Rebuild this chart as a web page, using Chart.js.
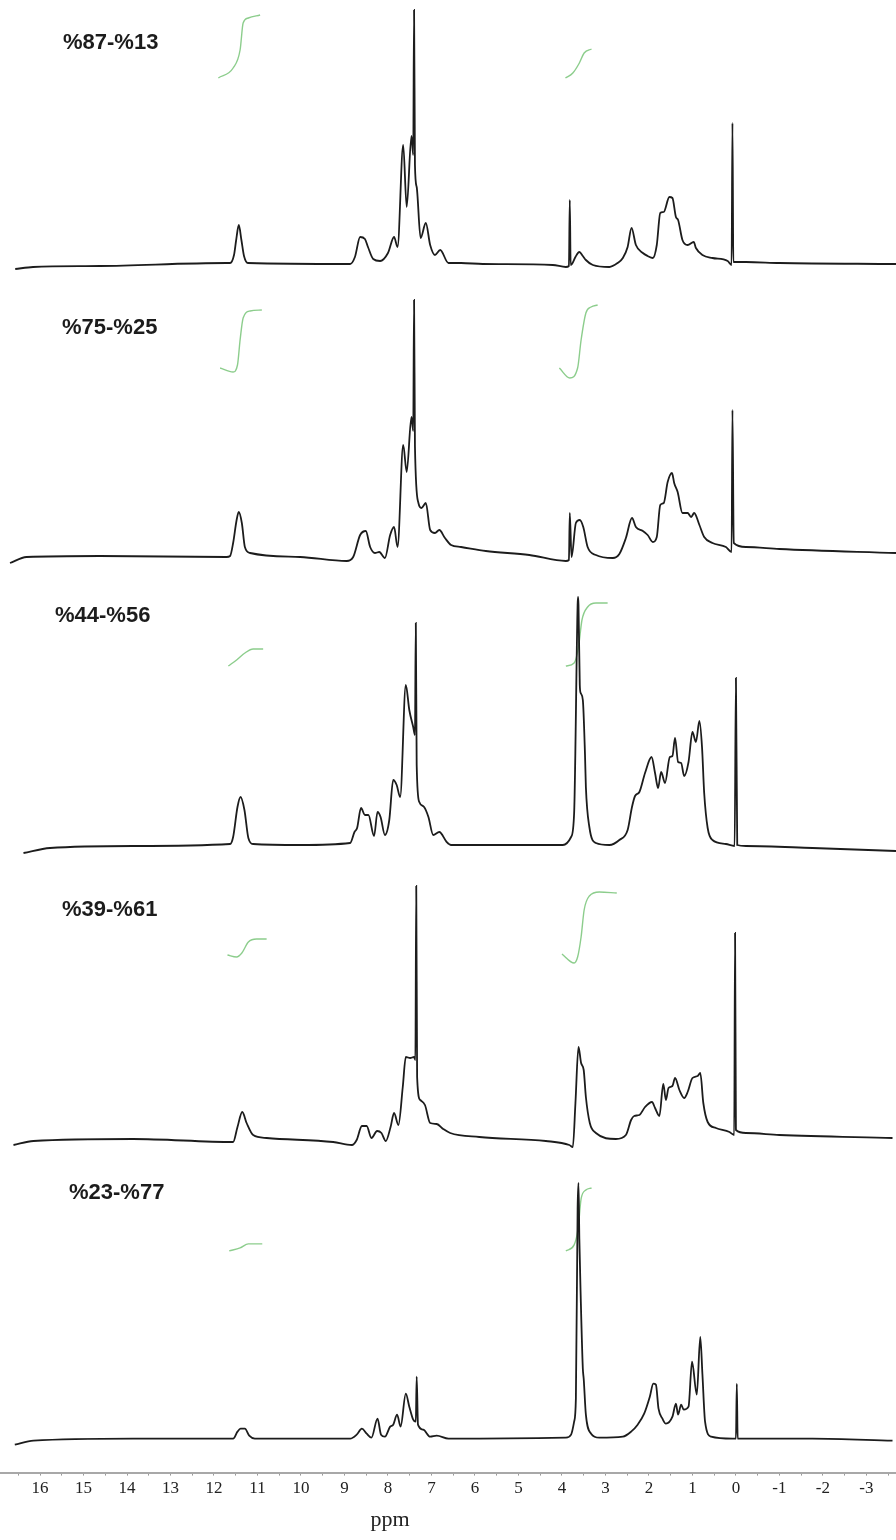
<!DOCTYPE html>
<html>
<head>
<meta charset="utf-8">
<script src="https://cdn.jsdelivr.net/npm/chart.js@4.4.1/dist/chart.umd.min.js"></script>
<style>
  body { margin: 0; background: #fff; }
  #wrap { position: relative; width: 896px; height: 1540px; overflow: hidden; background: #fff; }
  #wrap canvas { position: absolute; left: 0; }
  .lbl { position: absolute; font: bold 22px "Liberation Sans", Arial, sans-serif; color: #1c1c1c; line-height: 24px; white-space: nowrap; }
  #ppm { position: absolute; left: 350px; top: 1506px; width: 80px; text-align: center; line-height: 26px; font: 22px "Liberation Serif", "Times New Roman", serif; color: #222; }
</style>
</head>
<body>
<div id="wrap">
  <canvas id="p0"></canvas>
  <canvas id="p1"></canvas>
  <canvas id="p2"></canvas>
  <canvas id="p3"></canvas>
  <canvas id="p4"></canvas>
  <div id="ppm">ppm</div>
</div>
<script>

// sample names (ratio)
var LABELS = ["%87-%13", "%75-%25", "%44-%56", "%39-%61", "%23-%77"];

// x axis, ppm
var TICK_LABELS = [16, 15, 14, 13, 12, 11, 10, 9, 8, 7, 6, 5, 4, 3, 2, 1, 0, -1, -2, -3];

// spectra: [ppm, intensity]
var spec1 = [[16.57,-4],[16.16,-2],[14.62,-1],[11.71,2],[11.63,2],[11.54,10],[11.49,25],[11.43,40],[11.37,25],[11.31,9],[11.22,2],
  [8.87,1],[8.76,8],[8.64,28],[8.53,26],[8.46,18],[8.34,6],[8.18,4],[8.00,12],[7.86,28],[7.78,18],[7.65,120],[7.57,58],[7.46,129],
  [7.42,110],[7.40,255],[7.38,100],[7.34,78],[7.25,27],[7.13,42],[7.03,20],[6.92,10],[6.80,15],[6.61,2],[6.32,2],[5.82,1],[4.21,0],
  [3.91,-2],[3.84,-1],[3.82,65],[3.80,0],[3.77,1],[3.69,8],[3.60,13],[3.52,9],[3.45,5],[3.29,0],[2.91,-2],[2.72,2],[2.60,7],[2.49,18],
  [2.40,37],[2.30,20],[2.14,12],[2.03,9],[1.91,7],[1.82,20],[1.74,52],[1.66,53],[1.53,68],[1.46,67],[1.38,48],[1.33,45],[1.23,25],
  [1.11,20],[0.97,23],[0.92,17],[0.77,10],[0.54,7],[0.19,4],[0.10,0],[0.08,142],[0.06,3],[-0.23,3],[-1.00,2],[-3.68,1]];

var spec2 = [[16.69,-7],[16.31,-1],[14.62,0],[11.71,-1],[11.63,0],[11.56,13],[11.48,36],[11.43,44],[11.36,33],[11.29,9],[11.17,3],
  [10.02,-1],[8.95,-5],[8.80,-1],[8.64,21],[8.51,25],[8.41,9],[8.30,3],[8.20,4],[8.07,-2],[7.95,21],[7.86,29],[7.78,9],[7.65,111],
  [7.57,84],[7.46,139],[7.42,125],[7.40,256],[7.38,110],[7.30,53],[7.23,48],[7.13,53],[7.03,26],[6.92,23],[6.82,26],[6.69,18],
  [6.55,11],[6.32,9],[5.75,5],[4.75,1],[3.91,-5],[3.84,-4],[3.82,43],[3.78,-1],[3.68,33],[3.59,36],[3.51,29],[3.41,9],[3.22,1],
  [2.83,-2],[2.68,2],[2.53,18],[2.39,38],[2.30,29],[2.14,25],[2.03,21],[1.91,14],[1.82,19],[1.74,51],[1.66,53],[1.57,74],[1.47,83],
  [1.42,73],[1.34,64],[1.23,43],[1.11,43],[1.03,39],[0.96,43],[0.84,31],[0.73,19],[0.54,13],[0.23,9],[0.10,4],[0.08,146],[0.05,13],
  [-0.23,9],[-1.00,7],[-3.68,3]];

var spec3 = [[16.38,-8],[15.77,-3],[13.86,-1],[11.63,1],[11.56,8],[11.46,38],[11.39,48],[11.30,35],[11.21,7],[11.10,1],[10.02,0],
  [8.87,2],[8.77,13],[8.71,17],[8.62,37],[8.53,30],[8.45,30],[8.32,9],[8.24,33],[8.17,28],[8.07,10],[7.97,25],[7.88,65],[7.80,60],
  [7.72,48],[7.59,160],[7.51,135],[7.42,118],[7.38,110],[7.36,222],[7.34,80],[7.28,43],[7.17,38],[7.07,28],[6.96,10],[6.82,13],
  [6.65,3],[6.55,0],[5.90,0],[3.98,0],[3.79,8],[3.72,32],[3.64,240],[3.63,248],[3.62,240],[3.59,160],[3.57,152],[3.52,145],[3.47,90],
  [3.45,58],[3.37,18],[3.22,2],[2.91,0],[2.68,5],[2.49,15],[2.39,38],[2.32,49],[2.22,53],[2.09,72],[1.94,88],[1.86,72],[1.79,57],
  [1.72,73],[1.63,62],[1.52,88],[1.46,89],[1.40,107],[1.33,83],[1.26,82],[1.19,69],[1.09,83],[1.00,113],[0.92,103],[0.84,124],
  [0.78,98],[0.73,52],[0.65,17],[0.54,5],[0.23,1],[0.03,-1],[0.00,167],[-0.03,0],[-0.23,-1],[-1.76,-3],[-3.68,-6]];

var spec4 = [[16.61,-5],[16.15,-1],[13.86,1],[11.56,-2],[11.46,13],[11.35,28],[11.25,17],[11.10,5],[10.79,2],[9.26,-2],[8.83,-5],
  [8.72,0],[8.60,14],[8.49,14],[8.38,2],[8.25,9],[8.15,7],[8.05,-1],[7.94,13],[7.86,27],[7.76,15],[7.66,53],[7.59,83],[7.49,82],
  [7.40,83],[7.37,80],[7.35,254],[7.33,63],[7.26,40],[7.15,35],[7.03,17],[6.88,16],[6.73,11],[6.57,7],[5.90,3],[4.37,-1],[3.83,-5],
  [3.75,-7],[3.69,37],[3.62,93],[3.56,77],[3.50,70],[3.45,43],[3.36,17],[3.22,7],[2.76,1],[2.53,5],[2.41,20],[2.34,24],[2.22,25],
  [2.09,33],[1.93,38],[1.86,32],[1.76,24],[1.67,56],[1.61,40],[1.55,52],[1.46,54],[1.40,62],[1.30,50],[1.19,42],[1.11,48],[1.00,62],
  [0.88,64],[0.82,67],[0.75,37],[0.65,18],[0.46,12],[0.15,8],[0.04,5],[0.02,207],[0.00,10],[-0.23,7],[-1.00,5],[-3.60,2]];

var spec5 = [[16.58,-6],[16.15,-2],[13.86,0],[11.56,0],[11.46,7],[11.39,10],[11.29,10],[11.19,3],[11.06,0],[8.87,0],[8.72,4],
  [8.60,10],[8.49,5],[8.38,1],[8.24,20],[8.16,4],[8.07,2],[7.95,12],[7.88,14],[7.79,24],[7.71,12],[7.59,45],[7.51,32],[7.42,19],
  [7.36,17],[7.34,62],[7.31,14],[7.19,9],[7.03,2],[6.88,3],[6.61,0],[3.91,1],[3.79,4],[3.72,17],[3.68,40],[3.64,230],[3.62,256],
  [3.60,200],[3.57,144],[3.52,70],[3.50,60],[3.45,24],[3.33,5],[3.14,1],[2.60,2],[2.41,7],[2.26,14],[2.11,25],[1.98,42],[1.90,55],
  [1.84,54],[1.78,30],[1.69,20],[1.61,15],[1.46,22],[1.38,35],[1.33,24],[1.26,34],[1.20,29],[1.09,32],[1.01,77],[0.90,44],[0.82,102],
  [0.77,64],[0.71,17],[0.57,2],[0.08,0],[0.00,0],[-0.02,55],[-0.04,0],[-1.76,0],[-3.60,-2]];

// integral traces (green)
var integ1a = [[11.90,187],[11.56,197],[11.40,215],[11.33,242],[11.21,247],[10.94,250]];
var integ1b = [[3.92,187],[3.75,192],[3.60,202],[3.49,212],[3.32,216]];
var integ2a = [[11.86,188],[11.56,184],[11.46,191],[11.40,216],[11.33,238],[11.17,245],[10.90,246]];
var integ2b = [[4.06,188],[3.82,178],[3.64,188],[3.56,216],[3.45,243],[3.33,249],[3.18,251]];
var integ3a = [[11.67,179],[11.48,185],[11.29,192],[11.10,196],[10.87,196]];
var integ3b = [[3.91,179],[3.72,182],[3.62,198],[3.54,225],[3.41,238],[3.22,242],[2.95,242]];
var integ4a = [[11.69,185],[11.48,183],[11.36,187],[11.21,198],[11.02,201],[10.79,201]];
var integ4b = [[4.00,186],[3.72,177],[3.64,183],[3.56,203],[3.49,230],[3.37,244],[3.14,248],[2.74,247]];
var integ5a = [[11.65,188],[11.40,191],[11.21,195],[10.89,195]];
var integ5b = [[3.91,188],[3.72,194],[3.63,210],[3.56,240],[3.45,249],[3.32,251]];


var PPM_MIN = -3.68;
var PPM_MAX = 16.92;

// panel placement on the page
var PANEL_TOP = [-5, 286, 575, 870, 1169];
var LABEL_POS = [[63, 30], [62, 315], [55, 603], [62, 897], [69, 1180]];


function make_panel(idx, spec, intA, intB, withAxis) {

    var cv = document.getElementById("p" + idx);
    cv.width = 896;
    cv.height = withAxis ? 371 : 290;
    cv.style.top = PANEL_TOP[idx] + "px";

    var green = "rgba(120, 196, 120, 0.85)";

    var xScale = {
        type: "linear",
        min: PPM_MIN,
        max: PPM_MAX,
        reverse: true,
        display: false
    };

    if (withAxis) {
        xScale.display = true;
        xScale.afterBuildTicks = function(scale) {
            var t = [];
            TICK_LABELS.forEach(function(v) {
                t.push({ value: v + 0.5 });
                t.push({ value: v });
            });
            t.push({ value: -3.5 });
            scale.ticks = t;
        };
        xScale.ticks = {
            autoSkip: false,
            maxRotation: 0,
            padding: 3,
            color: "#222",
            font: { family: "'Liberation Serif', 'Times New Roman', serif", size: 17 },
            callback: function(v) {
                return TICK_LABELS.indexOf(v) >= 0 ? String(v) : "";
            }
        };
        xScale.grid = { drawOnChartArea: false, tickLength: 3, color: "#999" };
        xScale.border = { color: "#a8a8a8", width: 2 };
    }

    new Chart(cv, {
        type: "line",
        data: {
            datasets: [
                { data: spec, borderColor: "#1c1c1c", borderWidth: 1.8, cubicInterpolationMode: "monotone" },
                { data: intA, borderColor: green, borderWidth: 1.4, cubicInterpolationMode: "monotone" },
                { data: intB, borderColor: green, borderWidth: 1.4, cubicInterpolationMode: "monotone" }
            ]
        },
        options: {
            responsive: false,
            animation: false,
            layout: { padding: { left: 0, right: 0, top: 0, bottom: withAxis ? 38 : 0 } },
            elements: { point: { radius: 0 } },
            plugins: { legend: { display: false }, tooltip: { enabled: false } },
            scales: {
                x: xScale,
                y: { min: withAxis ? -34 : -20, max: 270, display: false }
            }
        }
    });

    var lbl = document.createElement("div");
    lbl.className = "lbl";
    lbl.textContent = LABELS[idx];
    lbl.style.left = LABEL_POS[idx][0] + "px";
    lbl.style.top = LABEL_POS[idx][1] + "px";
    document.getElementById("wrap").appendChild(lbl);
} // make panel


make_panel(0, spec1, integ1a, integ1b, false);
make_panel(1, spec2, integ2a, integ2b, false);
make_panel(2, spec3, integ3a, integ3b, false);
make_panel(3, spec4, integ4a, integ4b, false);
make_panel(4, spec5, integ5a, integ5b, true);

</script>
</body>
</html>
